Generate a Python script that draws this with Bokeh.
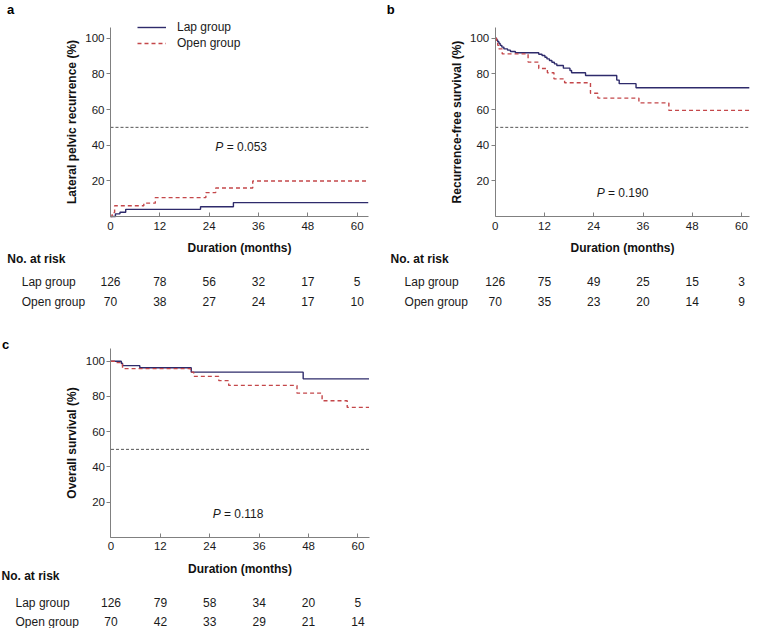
from bokeh.plotting import figure
from bokeh.models import (Range1d, FixedTicker, Label, Legend, LegendItem, LinearAxis,
                          ColumnDataSource)
from bokeh.core.properties import value
from bokeh.layouts import column, row
from bokeh.embed import file_html
from bokeh.resources import INLINE

FONT = "Liberation Sans"
LAP_COLOR = "#2e2b6b"
OPEN_COLOR = "#c4474a"
REF_COLOR = "#555555"
AXIS_COLOR = "#808080"
TEXT_COLOR = "#1a1a1a"

groups = ["Lap group", "Open group"]
x_ticks = [0, 12, 24, 36, 48, 60]
y_ticks = [20, 40, 60, 80, 100]
ref_level = 50

# Panel a: lateral pelvic recurrence (%)
a_lap_t = [0, 1.2, 2.3, 3.7, 21.9, 29.9, 62.7]
a_lap_v = [0, 1.5, 2.4, 4.0, 5.5, 7.8, 7.8]
a_open_t = [0, 0.4, 1.0, 8.1, 10.9, 23.2, 25.6, 34.6, 62.7]
a_open_v = [0, 2.2, 6.0, 7.5, 10.6, 13.4, 16.0, 19.9, 19.9]
a_risk_lap = [126, 78, 56, 32, 17, 5]
a_risk_open = [70, 38, 27, 24, 17, 10]
a_p = "0.053"

# Panel b: recurrence-free survival (%)
b_lap_t = [0, 0.3, 0.6, 0.9, 1.2, 1.6, 2.1, 3.0, 3.7, 4.9, 10.6, 11.4, 12.1, 12.6,
           13.2, 13.8, 14.4, 15.0, 16.6, 18.2, 18.6, 22.0, 29.6, 30.2, 34.3, 61.9]
b_lap_v = [100, 99, 98, 97, 96, 95, 94, 93.3, 92.5, 91.8, 91.0, 90.3, 89.3, 88.4,
           87.5, 86.5, 85.6, 84.7, 83.2, 81.9, 80.6, 79.1, 76.5, 74.5, 72.2, 72.2]
b_open_t = [0, 0.3, 0.6, 0.9, 1.7, 8.0, 10.6, 12.7, 14.3, 16.9, 23.2, 25.0, 35.0, 42.3, 61.9]
b_open_v = [100, 98, 96, 94, 91.2, 86.6, 83.0, 80.6, 77.2, 75.0, 69.1, 66.4, 63.7, 59.5, 59.5]
b_risk_lap = [126, 75, 49, 25, 15, 3]
b_risk_open = [70, 35, 23, 20, 14, 9]
b_p = "0.190"

# Panel c: overall survival (%)
c_lap_t = [0, 2.5, 2.8, 7.0, 19.5, 46.7, 62.7]
c_lap_v = [100, 98.9, 97.5, 96.3, 93.8, 90.0, 90.0]
c_open_t = [0, 1.0, 2.8, 19.3, 20.1, 26.2, 28.6, 45.2, 51.3, 57.4, 62.7]
c_open_v = [100, 99.2, 95.8, 93.8, 91.4, 89.0, 86.3, 81.9, 77.6, 73.8, 73.8]
c_risk_lap = [126, 79, 58, 34, 20, 5]
c_risk_open = [70, 42, 33, 29, 21, 14]
c_p = "0.118"


def lab(p, x, y, text, size="12px", style="normal", align="left", baseline="middle",
        x_offset=0, color=TEXT_COLOR):
    p.add_layout(Label(x=x, y=y, text=text, text_font=FONT, text_font_size=size,
                       text_font_style=style, text_align=align, text_baseline=baseline,
                       x_offset=x_offset, text_color=color))


def make_panel(width, height, xr, yr, xmax, ymax, ylabel,
               lap_t, lap_v, open_t, open_v, risk_lap, risk_open, pval,
               letter, letter_pos, p_pos, tab_x, row_x, tab_y):
    p = figure(width=width, height=height, x_range=Range1d(*xr), y_range=Range1d(*yr),
               output_backend="svg", toolbar_location=None,
               x_axis_location=None, y_axis_location=None,
               min_border=0, min_border_left=0, min_border_right=0,
               min_border_top=0, min_border_bottom=0)
    p.outline_line_color = None
    p.grid.visible = False
    p.background_fill_color = "white"
    p.border_fill_color = "white"

    xaxis = LinearAxis(fixed_location=0, bounds=(0, xmax), ticker=FixedTicker(ticks=x_ticks),
                       axis_label="Duration (months)")
    yaxis = LinearAxis(fixed_location=0, bounds=(0, ymax), ticker=FixedTicker(ticks=y_ticks),
                       axis_label=ylabel)
    for ax in (xaxis, yaxis):
        ax.axis_line_color = AXIS_COLOR
        ax.major_tick_line_color = AXIS_COLOR
        ax.minor_tick_line_color = None
        ax.major_label_text_font = FONT
        ax.major_label_text_font_size = "11.5px"
        ax.major_label_text_color = TEXT_COLOR
        ax.axis_label_text_font = FONT
        ax.axis_label_text_font_size = "12px"
        ax.axis_label_text_font_style = "bold"
        ax.axis_label_text_color = "#111111"
    xaxis.major_tick_in = 4
    xaxis.major_tick_out = 0
    xaxis.major_label_standoff = 5
    xaxis.axis_label_standoff = 8
    yaxis.major_tick_in = 0
    yaxis.major_tick_out = 4
    yaxis.major_label_standoff = 2
    yaxis.axis_label_standoff = 3
    p.add_layout(xaxis, "below")
    p.add_layout(yaxis, "left")

    # 50% reference line
    p.segment(x0=[0], y0=[ref_level], x1=[xmax], y1=[ref_level], line_color=REF_COLOR,
              line_dash="3 2", line_width=1)

    r_lap = p.step(lap_t, lap_v, mode="after", line_color=LAP_COLOR, line_width=1.4)
    r_open = p.step(open_t, open_v, mode="after", line_color=OPEN_COLOR, line_width=1.4,
                    line_dash="4 3")

    # P value
    lab(p, p_pos[0], p_pos[1], "P", style="italic")
    lab(p, p_pos[0], p_pos[1], "= " + pval, x_offset=11.3)

    # panel letter
    lab(p, letter_pos[0], letter_pos[1], letter, size="13px", style="bold", align="center",
        baseline="alphabetic", color="#000000")

    # number-at-risk table
    lab(p, tab_x, tab_y[0], "No. at risk", style="bold", color="#111111")
    lab(p, row_x, tab_y[1], groups[0])
    lab(p, row_x, tab_y[2], groups[1])
    src = ColumnDataSource(dict(
        x=x_ticks + x_ticks,
        y=[tab_y[1]] * len(x_ticks) + [tab_y[2]] * len(x_ticks),
        t=[str(n) for n in risk_lap] + [str(n) for n in risk_open]))
    p.text(x="x", y="y", text="t", source=src, text_font=value(FONT), text_font_size="12px",
           text_align="center", text_baseline="middle", text_color=TEXT_COLOR)
    return p, r_lap, r_open


pa, ra1, ra2 = make_panel(380, 325, (-26.76, 65.68), (-61.13, 121.14), 62.7, 106,
                          "Lateral pelvic recurrence (%)",
                          a_lap_t, a_lap_v, a_open_t, a_open_v, a_risk_lap, a_risk_open, a_p,
                          "a", (-24.3, 116.1), (25.5, 38.7), -25.1, -21.6, (-23.6, -36.5, -47.7))
legend = Legend(items=[LegendItem(label=groups[0], renderers=[ra1]),
                       LegendItem(label=groups[1], renderers=[ra2])],
                location=(137, 275), glyph_width=29, glyph_height=14, label_height=14,
                label_standoff=11, spacing=2, padding=0, margin=0,
                border_line_color=None, background_fill_alpha=0,
                label_text_font=FONT, label_text_font_size="12px",
                label_text_color=TEXT_COLOR)
pa.add_layout(legend)

pb, _, _ = make_panel(378, 325, (-27.96, 64.14), (-61.13, 121.14), 61.9, 106,
                      "Recurrence-free survival (%)",
                      b_lap_t, b_lap_v, b_open_t, b_open_v, b_risk_lap, b_risk_open, b_p,
                      "b", (-25.5, 116.1), (24.7, 12.9), -25.5, -22.1, (-23.6, -36.5, -47.7))

pc, _, _ = make_panel(380, 303, (-26.85, 65.49), (-51.63, 120.28), 62.7, 107,
                      "Overall survival (%)",
                      c_lap_t, c_lap_v, c_open_t, c_open_v, c_risk_lap, c_risk_open, c_p,
                      "c", (-25.6, 109.5), (24.7, 13.6), -26.6, -23.2, (-22.1, -36.9, -47.7))

layout = column(row(pa, pb), pc)
open("out.html", "w").write(file_html(layout, INLINE))
